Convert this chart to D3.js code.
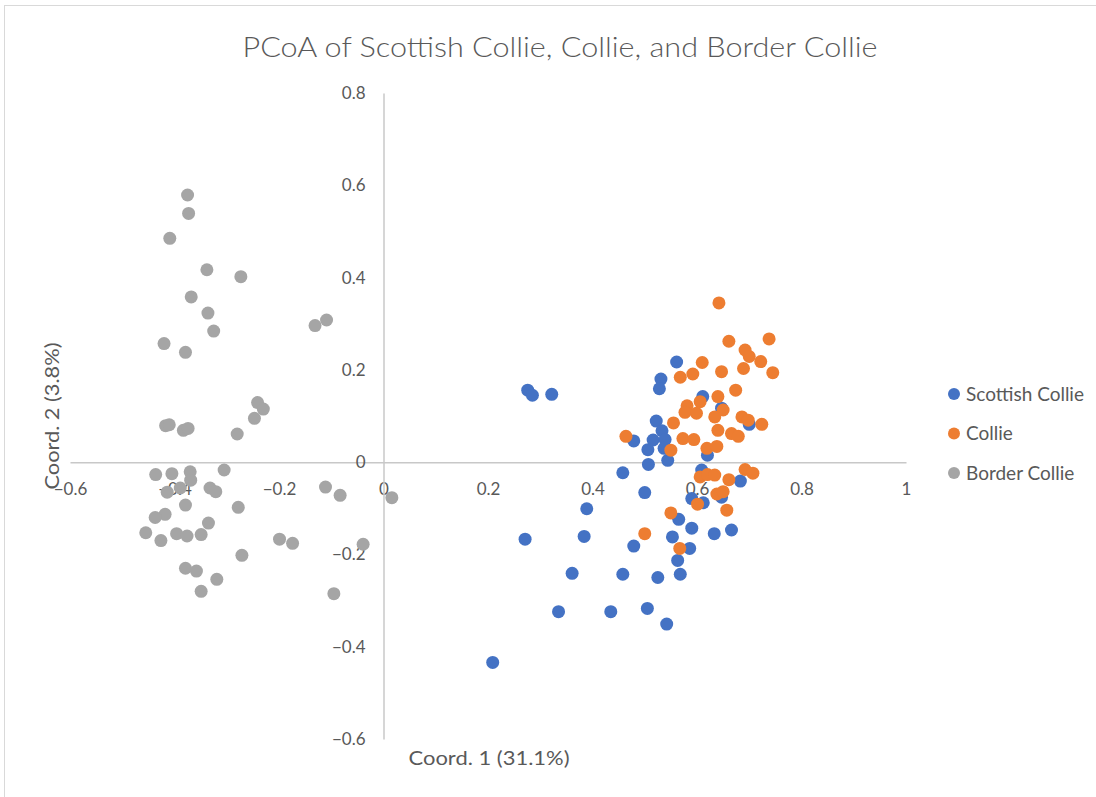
<!DOCTYPE html>
<html>
<head>
<meta charset="utf-8">
<script src="https://cdn.jsdelivr.net/npm/d3@7"></script>
<style>
  html, body { margin: 0; padding: 0; background: #ffffff; }
  svg { display: block; }
  text { font-family: Lato, "Open Sans", sans-serif; fill: #595959; }
</style>
</head>
<body>
<svg id="chart" width="1096" height="797"></svg>
<script>
// PCoA coordinates (Coord. 1, Coord. 2) for each breed
const seriesNames = ["Scottish Collie", "Collie", "Border Collie"];
const seriesColors = ["#4472C4", "#ED7D31", "#A5A5A5"];

const scottishX = [0.276, 0.285, 0.322, 0.561, 0.531, 0.528, 0.522, 0.533, 0.516, 0.539, 0.479, 0.506, 0.537, 0.544, 0.507, 0.458,
  0.611, 0.647, 0.700, 0.620, 0.609, 0.683, 0.500, 0.590, 0.612, 0.647, 0.389, 0.384, 0.271, 0.479, 0.553, 0.590,
  0.633, 0.666, 0.565, 0.586, 0.563, 0.568, 0.525, 0.458, 0.361, 0.335, 0.435, 0.505, 0.542, 0.209];
const scottishY = [0.156, 0.145, 0.147, 0.217, 0.180, 0.159, 0.089, 0.068, 0.048, 0.049, 0.046, 0.027, 0.030, 0.004, -0.005, -0.023,
  0.142, 0.117, 0.082, 0.015, -0.017, -0.041, -0.066, -0.079, -0.088, -0.076, -0.101, -0.161, -0.167, -0.182, -0.162, -0.143,
  -0.155, -0.147, -0.124, -0.187, -0.213, -0.243, -0.250, -0.243, -0.241, -0.324, -0.324, -0.317, -0.351, -0.434];

const collieX = [0.642, 0.661, 0.738, 0.692, 0.700, 0.722, 0.745, 0.689, 0.647, 0.610, 0.592, 0.568, 0.674, 0.640, 0.606, 0.581,
  0.577, 0.599, 0.650, 0.634, 0.686, 0.698, 0.724, 0.640, 0.666, 0.679, 0.573, 0.594, 0.619, 0.638, 0.555, 0.464,
  0.550, 0.692, 0.707, 0.606, 0.620, 0.634, 0.661, 0.638, 0.650, 0.601, 0.657, 0.550, 0.500, 0.567];
const collieY = [0.345, 0.262, 0.267, 0.243, 0.229, 0.218, 0.194, 0.203, 0.196, 0.216, 0.191, 0.184, 0.156, 0.142, 0.131, 0.122,
  0.108, 0.106, 0.113, 0.098, 0.098, 0.091, 0.082, 0.069, 0.062, 0.056, 0.051, 0.049, 0.030, 0.034, 0.085, 0.056,
  0.026, -0.016, -0.024, -0.032, -0.027, -0.028, -0.038, -0.069, -0.064, -0.091, -0.104, -0.110, -0.155, -0.187];

const borderX = [-0.375, -0.373, -0.409, -0.338, -0.273, -0.368, -0.336, -0.325, -0.420, -0.379, -0.131, -0.109, -0.241, -0.230, -0.247, -0.417,
  -0.410, -0.383, -0.374, -0.280, -0.305, -0.436, -0.405, -0.370, -0.369, -0.414, -0.389, -0.332, -0.321, -0.379, -0.278, -0.418,
  -0.437, -0.335, -0.455, -0.426, -0.396, -0.376, -0.349, -0.271, -0.199, -0.174, -0.039, -0.379, -0.358, -0.319, -0.349,
  -0.095, -0.111, -0.083, 0.016];
const borderY = [0.579, 0.539, 0.485, 0.417, 0.402, 0.358, 0.323, 0.284, 0.257, 0.238, 0.296, 0.308, 0.129, 0.115, 0.095, 0.079,
  0.081, 0.069, 0.073, 0.061, -0.017, -0.027, -0.025, -0.021, -0.039, -0.065, -0.056, -0.056, -0.064, -0.093, -0.098, -0.113,
  -0.120, -0.132, -0.153, -0.170, -0.155, -0.160, -0.157, -0.202, -0.167, -0.176, -0.178, -0.230, -0.236, -0.254, -0.280,
  -0.285, -0.054, -0.072, -0.077];

const xTicks = [-0.6, -0.4, -0.2, 0, 0.2, 0.4, 0.6, 0.8, 1];
const yTicks = [-0.6, -0.4, -0.2, 0, 0.2, 0.4, 0.6, 0.8];

const chartTitle = "PCoA of Scottish Collie, Collie, and Border Collie";
const xTitle = "Coord. 1 (31.1%)";
const yTitle = "Coord. 2 (3.8%)";

const series = [
  { name: seriesNames[0], color: seriesColors[0], xs: scottishX, ys: scottishY },
  { name: seriesNames[1], color: seriesColors[1], xs: collieX, ys: collieY },
  { name: seriesNames[2], color: seriesColors[2], xs: borderX, ys: borderY }
];

const svg = d3.select("#chart");

// chart area frame
svg.append("rect")
  .attr("x", 4.5).attr("y", 5.5)
  .attr("width", 1100).attr("height", 800)
  .attr("fill", "#ffffff")
  .attr("stroke", "#d9d9d9")
  .attr("stroke-width", 1);

const x = d3.scaleLinear().domain([-0.6, 1]).range([70, 906]);
const y = d3.scaleLinear().domain([-0.6, 0.8]).range([739, 93]);

const fmt = d => (d === 0 ? "0" : d3.format("")(+d.toFixed(1)));

// horizontal axis crossing at y = 0
const xAxis = svg.append("g")
  .attr("transform", `translate(0,${y(0)})`)
  .call(d3.axisBottom(x).tickValues(xTicks).tickSize(0).tickPadding(21).tickFormat(fmt));

// vertical axis crossing at x = 0
const yAxis = svg.append("g")
  .attr("transform", `translate(${x(0)},0)`)
  .call(d3.axisLeft(y).tickValues(yTicks).tickSize(0).tickPadding(18).tickFormat(fmt));

[xAxis, yAxis].forEach(g => {
  g.select(".domain").attr("stroke", "#c8c8c8").attr("stroke-width", 1.5);
  g.selectAll("text")
    .attr("font-family", "Lato, 'Open Sans', sans-serif")
    .attr("font-size", 17)
    .attr("fill", "#595959");
});

// points, one group per breed
series.forEach(s => {
  svg.append("g")
    .selectAll("circle")
    .data(s.xs.map((v, i) => [v, s.ys[i]]))
    .join("circle")
    .attr("cx", d => x(d[0]))
    .attr("cy", d => y(d[1]))
    .attr("r", 6.5)
    .attr("fill", s.color);
});

// title
svg.append("text")
  .attr("x", 560).attr("y", 57)
  .attr("text-anchor", "middle")
  .attr("font-size", 28)
  .attr("font-weight", 300)
  .attr("textLength", 635)
  .attr("lengthAdjust", "spacingAndGlyphs")
  .text(chartTitle);

// axis titles
svg.append("text")
  .attr("x", 489).attr("y", 765)
  .attr("text-anchor", "middle")
  .attr("font-size", 19)
  .attr("textLength", 161)
  .attr("lengthAdjust", "spacingAndGlyphs")
  .text(xTitle);

svg.append("text")
  .attr("transform", "translate(59,416) rotate(-90)")
  .attr("text-anchor", "middle")
  .attr("font-size", 19)
  .attr("textLength", 147)
  .attr("lengthAdjust", "spacingAndGlyphs")
  .text(yTitle);

// legend
const legend = svg.append("g").attr("transform", "translate(954,394)");
const items = legend.selectAll("g")
  .data(series)
  .join("g")
  .attr("transform", (d, i) => `translate(0,${i * 39.5})`);
items.append("circle").attr("r", 6).attr("fill", d => d.color);
items.append("text")
  .attr("x", 12).attr("y", 6.5)
  .attr("font-size", 19)
  .text(d => d.name);
</script>
</body>
</html>
